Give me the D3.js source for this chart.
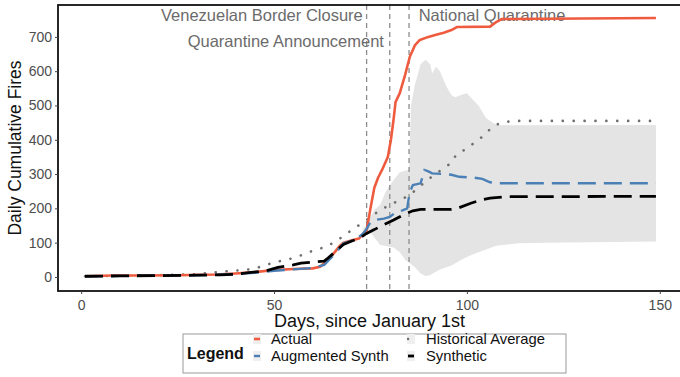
<!DOCTYPE html>
<html>
<head>
<meta charset="utf-8">
<script src="https://cdn.jsdelivr.net/npm/d3@7"></script>
<style>
  html, body { margin: 0; padding: 0; background: #fff; }
  svg { display: block; font-family: "Liberation Sans", Arial, sans-serif; }
</style>
</head>
<body>
<svg id="chart" width="680" height="377"></svg>
<script>
// [day, cumulative fires]
const actual = [[1,2],[8,4],[15,4],[25,5],[35,7],[40,10],[45,14],[50,20],[55,23],[60,25],[62,30],[63,40],[65,62],[67,90],[68,100],[70,106],[72,112],[73,125],[74,135],[75,200],[76,260],[77,290],[78,312],[79.5,350],[80.3,400],[81,460],[81.5,510],[82.6,536],[84,590],[85.2,642],[86.5,675],[87.8,691],[90,700],[92,706],[94,712],[96,720],[97.5,729],[106,730],[107.7,744],[109,752],[149,755]];
const synthetic = [[1,2],[10,3],[20,4],[30,5],[36,6],[40,8],[44,13],[48,18],[51,28],[55,35],[57,40],[63,46],[64,55],[66,75],[68,95],[70,104],[72,112],[74,127],[76,138],[78,150],[81,166],[83.5,181],[86,193],[88,197],[96,197],[98,202],[101,215],[103.5,224],[106,230],[110,234],[149,235]];
const augmented = [[1,2],[10,3],[20,4],[30,5],[38,8],[45,12],[50,18],[55,22],[60,26],[63,35],[66,70],[68,98],[71,108],[73,125],[74,140],[75,160],[76,166],[78.5,170],[80,175],[81.5,188],[83.5,195],[84.5,200],[85.2,248],[86,268],[88,273],[89,312],[90,308],[91,302],[94,300],[96,298],[98,292],[101.5,290],[104,286],[106,276],[108,273],[149,273]];
const historical = [[1,2],[10,3],[20,5],[30,8],[36,15],[42,20],[45,24],[47,32],[50,42],[53,50],[55,55],[58,67],[60.6,79],[63.6,88],[65.8,103],[68.4,122],[70.5,140],[73,158],[77.5,195],[80,210],[82.6,224],[85.2,239],[90,285],[96,333],[97.3,358],[100,374],[102.5,397],[104.7,414],[106.5,438],[109,450],[112,455],[149,455]];
// historical range band: [day, low, high]
const band = [[73,125,140],[74,128,150],[75,130,175],[76,115,195],[77.5,93,210],[79,90,250],[81,86,283],[82.6,72,305],[84,50,310],[85,42,312],[85.5,38,500],[86.5,28,560],[88,10,620],[89.3,3,633],[90.5,5,620],[91,9,594],[92,15,613],[93,22,600],[94.7,28,555],[96,33,530],[97,40,524],[98.6,50,531],[100,58,536],[101.6,66,516],[103,72,500],[105,80,463],[106.8,88,449],[108,92,443],[113.7,98,442],[120,100,442],[149,103,443]];

const events = [74, 80, 85];
const eventLabels = [
  {text: "Venezuelan Border Closure", day: 73, row: 0, anchor: "end"},
  {text: "Quarantine Announcement", day: 78.5, row: 1, anchor: "end"},
  {text: "National Quarantine", day: 87.5, row: 0, anchor: "start"}
];
const xTicks = [0, 50, 100, 150];
const yTicks = [0, 100, 200, 300, 400, 500, 600, 700];
const legendItems = ["Actual", "Augmented Synth", "Historical Average", "Synthetic"];

const svg = d3.select("#chart");
const panel = {left: 58, right: 681, top: 5, bottom: 291};

const x = d3.scaleLinear().domain([-6, 155.5]).range([panel.left, panel.right]);
const y = d3.scaleLinear().domain([-41, 793]).range([panel.bottom, panel.top]);

// band
svg.append("path")
  .datum(band)
  .attr("fill", "#e4e4e4")
  .attr("d", d3.area().x(d => x(d[0])).y0(d => y(d[1])).y1(d => y(d[2])));

// event markers
svg.selectAll("line.event").data(events).join("line")
  .attr("class", "event")
  .attr("x1", d => x(d)).attr("x2", d => x(d))
  .attr("y1", panel.top).attr("y2", panel.bottom)
  .attr("stroke", "#8c8c8c").attr("stroke-width", 1.3)
  .attr("stroke-dasharray", "5,4");

// event labels
svg.selectAll("text.evlab").data(eventLabels).join("text")
  .attr("class", "evlab")
  .attr("x", d => x(d.day))
  .attr("y", d => d.row === 0 ? 21 : 47)
  .attr("text-anchor", d => d.anchor)
  .attr("font-size", 16.5)
  .attr("fill", "#6b6b6b")
  .text(d => d.text);

const line = d3.line().x(d => x(d[0])).y(d => y(d[1]));

svg.append("path").datum(historical)
  .attr("fill", "none").attr("stroke", "#6e6e6e")
  .attr("stroke-width", 2.6).attr("stroke-linecap", "round")
  .attr("stroke-dasharray", "0.1,10.8")
  .attr("d", line);

svg.append("path").datum(actual)
  .attr("fill", "none").attr("stroke", "#ee5b3e")
  .attr("stroke-width", 2.6).attr("stroke-linejoin", "round")
  .attr("d", line);

svg.append("path").datum(augmented)
  .attr("fill", "none").attr("stroke", "#4a80b6")
  .attr("stroke-width", 2.4)
  .attr("stroke-dasharray", "18,8")
  .attr("d", line);

svg.append("path").datum(synthetic)
  .attr("fill", "none").attr("stroke", "#000")
  .attr("stroke-width", 2.8)
  .attr("stroke-dasharray", "18,8")
  .attr("d", line);

// panel border
svg.append("rect")
  .attr("x", panel.left).attr("y", panel.top)
  .attr("width", panel.right - panel.left + 2).attr("height", panel.bottom - panel.top)
  .attr("fill", "none").attr("stroke", "#111").attr("stroke-width", 1.8);

// axes
const xAxis = svg.append("g")
  .attr("transform", `translate(0,${panel.bottom})`)
  .call(d3.axisBottom(x).tickValues(xTicks).tickSize(3).tickPadding(3).tickFormat(d3.format("d")));
const yAxis = svg.append("g")
  .attr("transform", `translate(${panel.left},0)`)
  .call(d3.axisLeft(y).tickValues(yTicks).tickSize(3).tickPadding(3).tickFormat(d3.format("d")));
[xAxis, yAxis].forEach(g => {
  g.select(".domain").remove();
  g.selectAll(".tick line").attr("stroke", "#444");
  g.selectAll(".tick text").attr("fill", "#4d4d4d").attr("font-size", 14)
    .attr("font-family", "'Liberation Sans', Arial, sans-serif");
});
xAxis.selectAll(".tick text").attr("dy", "0.95em");

// axis titles
svg.append("text")
  .attr("x", (panel.left + panel.right) / 2).attr("y", 327)
  .attr("text-anchor", "middle").attr("font-size", 18).attr("fill", "#111")
  .text("Days, since January 1st");
svg.append("text")
  .attr("transform", `translate(21,${(panel.top + panel.bottom) / 2}) rotate(-90)`)
  .attr("text-anchor", "middle").attr("font-size", 17.5).attr("fill", "#111")
  .text("Daily Cumulative Fires");

// legend
const lg = svg.append("g");
lg.append("rect").attr("x", 183).attr("y", 334).attr("width", 383).attr("height", 39)
  .attr("fill", "#fff").attr("stroke", "#9a9a9a").attr("stroke-width", 1);
lg.append("text").attr("x", 187).attr("y", 359).attr("font-size", 16)
  .attr("font-weight", "bold").attr("fill", "#111").text("Legend");

const keyPos = [
  {kx: 257, tx: 271, ty: 344},
  {kx: 257, tx: 271, ty: 361},
  {kx: 411, tx: 426, ty: 344},
  {kx: 411, tx: 426, ty: 361}
];
const keyStyle = [
  {stroke: "#ee5b3e", w: 2.6, dash: null},
  {stroke: "#4a80b6", w: 2.4, dash: null},
  {stroke: "#6e6e6e", w: 2.4, dash: "0.1,10"},
  {stroke: "#000", w: 2.8, dash: null}
];
legendItems.forEach((name, i) => {
  const p = keyPos[i], s = keyStyle[i];
  lg.append("rect").attr("x", p.kx - 4).attr("y", p.ty - 10).attr("width", 8).attr("height", 10)
    .attr("fill", "#efefef");
  lg.append("line")
    .attr("x1", p.kx - 3).attr("x2", p.kx + 3)
    .attr("y1", p.ty - 5).attr("y2", p.ty - 5)
    .attr("stroke", s.stroke).attr("stroke-width", s.w)
    .attr("stroke-linecap", s.dash ? "round" : "butt")
    .attr("stroke-dasharray", s.dash);
  lg.append("text").attr("x", p.tx).attr("y", p.ty).attr("font-size", 14.8)
    .attr("fill", "#111").text(name);
});
</script>
</body>
</html>
